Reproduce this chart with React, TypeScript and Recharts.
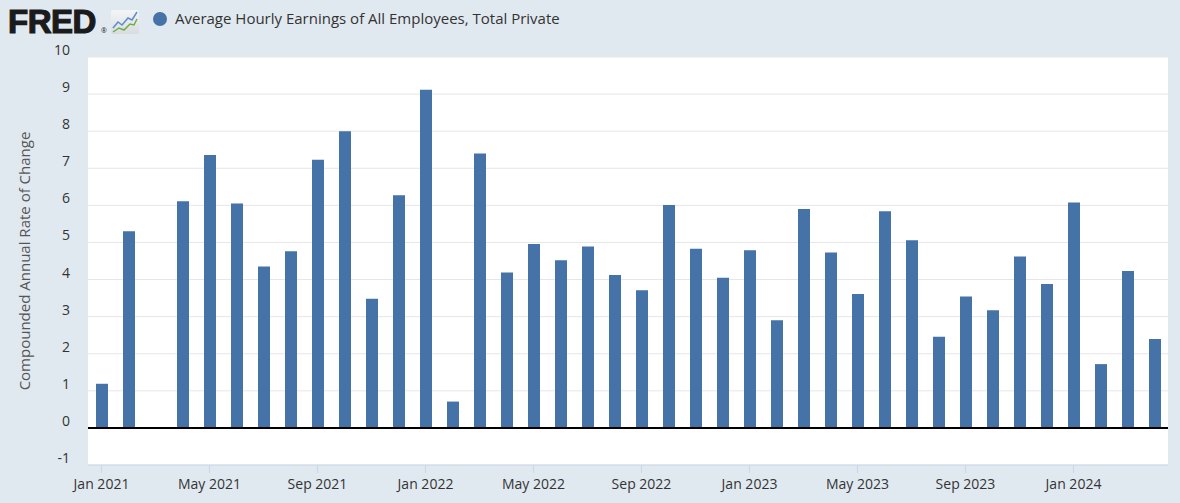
import {
  Bar,
  BarChart,
  CartesianGrid,
  ReferenceLine,
  XAxis,
  YAxis,
} from "recharts";

// monthly observations, Jan 2021 – Apr 2024
const months = [
  "2021-01", "2021-02", "2021-03", "2021-04", "2021-05", "2021-06",
  "2021-07", "2021-08", "2021-09", "2021-10", "2021-11", "2021-12",
  "2022-01", "2022-02", "2022-03", "2022-04", "2022-05", "2022-06",
  "2022-07", "2022-08", "2022-09", "2022-10", "2022-11", "2022-12",
  "2023-01", "2023-02", "2023-03", "2023-04", "2023-05", "2023-06",
  "2023-07", "2023-08", "2023-09", "2023-10", "2023-11", "2023-12",
  "2024-01", "2024-02", "2024-03", "2024-04",
];

const rateOfChange = [
  1.19, 5.3, 0, 6.11, 7.36, 6.05, 4.35, 4.76, 7.23, 8.0, 3.48, 6.27,
  9.12, 0.71, 7.4, 4.19, 4.96, 4.52, 4.89, 4.12, 3.71, 6.01, 4.83, 4.05,
  4.79, 2.9, 5.9, 4.73, 3.61, 5.84, 5.06, 2.46, 3.54, 3.17, 4.62, 3.88,
  6.08, 1.72, 4.23, 2.4,
];

const xTicks = [
  "2021-01", "2021-05", "2021-09", "2022-01", "2022-05",
  "2022-09", "2023-01", "2023-05", "2023-09", "2024-01",
];
const xTickLabels = [
  "Jan 2021", "May 2021", "Sep 2021", "Jan 2022", "May 2022",
  "Sep 2022", "Jan 2023", "May 2023", "Sep 2023", "Jan 2024",
];
const yTicks = [-1, 0, 1, 2, 3, 4, 5, 6, 7, 8, 9, 10];

const seriesName = "Average Hourly Earnings of All Employees, Total Private";
const yLabel = "Compounded Annual Rate of Change";

const data = months.map((m, i) => ({ month: m, value: rateOfChange[i] }));

const FONT = "'Open Sans', 'Noto Sans', sans-serif";

function XTick({ x, y, payload }: any) {
  const label = xTickLabels[xTicks.indexOf(payload.value)];
  return (
    <text x={x} y={y + 16} textAnchor="middle" fill="#333" fontSize={14} fontFamily={FONT}>
      {label}
    </text>
  );
}

function YTick({ x, y, payload }: any) {
  return (
    <text x={x} y={y - 2} textAnchor="end" fill="#333" fontSize={14} fontFamily={FONT}>
      {payload.value}
    </text>
  );
}

function FredIcon() {
  return (
    <svg width={28} height={24} style={{ position: "absolute", left: 111, top: 10 }}>
      <defs>
        <linearGradient id="icobg" x1="0" y1="0" x2="0" y2="1">
          <stop offset="0" stopColor="#f4f5f6" />
          <stop offset="1" stopColor="#d9dcdf" />
        </linearGradient>
      </defs>
      <rect x={0} y={0} width={28} height={24} rx={2} fill="url(#icobg)" />
      <polyline points="2,18 7,12 11,15 17,8 21,10 26,2" fill="none" stroke="#5a8ed0" strokeWidth={1.5} />
      <polyline points="2,22 8,18 13,20 19,14 23,15 26,9" fill="none" stroke="#6fae47" strokeWidth={1.5} />
    </svg>
  );
}

export default function App() {
  return (
    <div
      style={{
        position: "absolute",
        left: 0,
        top: 0,
        width: 1180,
        height: 503,
        background: "#e1e9f0",
        fontFamily: FONT,
        overflow: "hidden",
      }}
    >
      <div
        style={{
          position: "absolute",
          left: 8,
          top: 3,
          fontSize: 33,
          fontWeight: 900,
          letterSpacing: -0.5,
          color: "#1b1b1b",
          WebkitTextStroke: "1.2px #1b1b1b",
          fontFamily: "'Liberation Sans', Arial, sans-serif",
        }}
      >
        FRED
      </div>
      <div style={{ position: "absolute", left: 101, top: 26, fontSize: 7, color: "#1b1b1b" }}>®</div>
      <FredIcon />
      <div
        style={{
          position: "absolute",
          left: 153,
          top: 12,
          width: 14,
          height: 14,
          borderRadius: "50%",
          background: "#4572a7",
        }}
      />
      <div style={{ position: "absolute", left: 175, top: 8, fontSize: 15, color: "#333" }}>
        {seriesName}
      </div>

      <div style={{ position: "absolute", left: 0, top: 0 }}>
        <BarChart
          width={1180}
          height={503}
          data={data}
          margin={{ top: 57, right: 12, bottom: 0, left: 0 }}
          barCategoryGap={0}
        >
          <CartesianGrid vertical={false} stroke="#e6e6e6" fill="#ffffff" />
          <XAxis
            dataKey="month"
            ticks={xTicks}
            interval={0}
            height={38}
            tick={<XTick />}
            tickSize={8}
            tickMargin={0}
            tickLine={{ stroke: "#ccd6eb" }}
            axisLine={{ stroke: "#ccd6eb" }}
          />
          <YAxis
            width={88}
            domain={[-1, 10]}
            ticks={yTicks}
            interval={0}
            tickLine={false}
            axisLine={false}
            tickSize={0}
            tickMargin={18}
            tick={<YTick />}
            label={{
              content: ({ viewBox }: any) => {
                const cy = viewBox.y + viewBox.height / 2;
                return (
                  <text
                    x={24}
                    y={cy}
                    transform={`rotate(-90 24 ${cy})`}
                    textAnchor="middle"
                    dominantBaseline="central"
                    fill="#555"
                    fontSize={15}
                    fontFamily={FONT}
                  >
                    {yLabel}
                  </text>
                );
              },
            }}
          />
          <ReferenceLine y={0} stroke="#000" strokeWidth={2} />
          <Bar dataKey="value" fill="#4572a7" barSize={12} isAnimationActive={false} />
        </BarChart>
      </div>
    </div>
  );
}
